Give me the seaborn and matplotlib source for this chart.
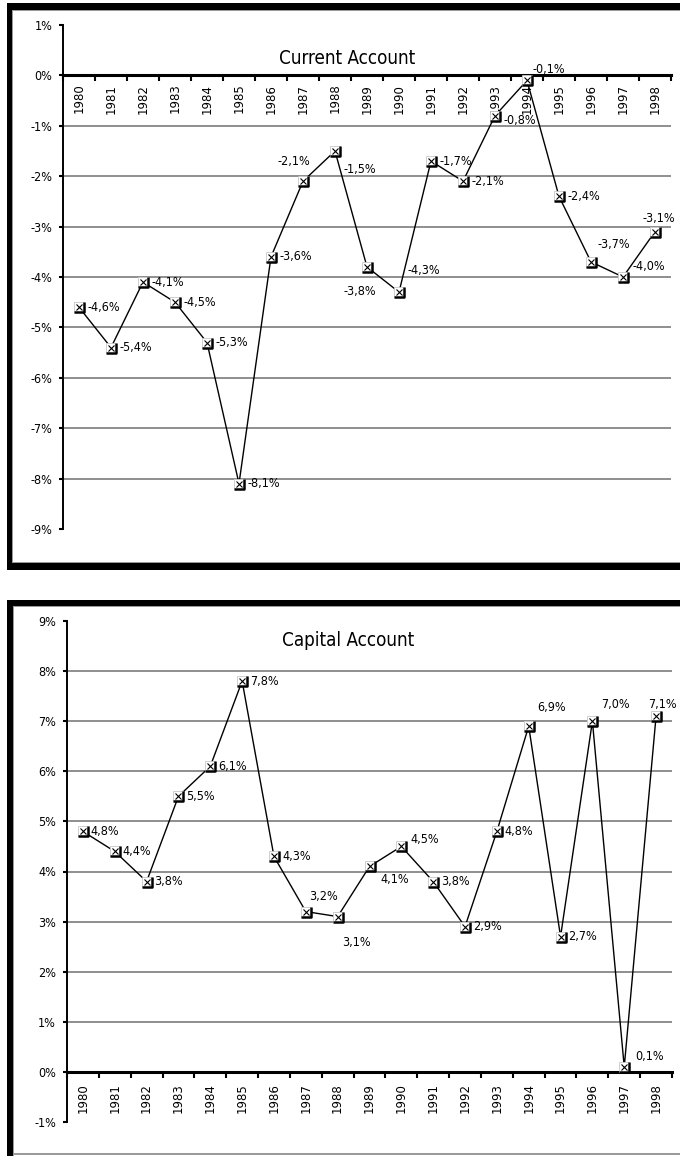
import numpy as np
import matplotlib
matplotlib.use("Agg")
import matplotlib.pyplot as plt
from matplotlib.patches import Rectangle
from matplotlib.path import Path
from matplotlib import font_manager
import seaborn as sns

# ---- data -------------------------------------------------------------
years = list(range(1980, 1999))
current_account = [-4.6, -5.4, -4.1, -4.5, -5.3, -8.1, -3.6, -2.1, -1.5, -3.8,
                   -4.3, -1.7, -2.1, -0.8, -0.1, -2.4, -3.7, -4.0, -3.1]
capital_account = [4.8, 4.4, 3.8, 5.5, 6.1, 7.8, 4.3, 3.2, 3.1, 4.1,
                   4.5, 3.8, 2.9, 4.8, 6.9, 2.7, 7.0, 0.1, 7.1]
current_ticks = list(range(1, -10, -1))
capital_ticks = list(range(9, -2, -1))
year_labels = [str(y) for y in years]
titles = ["Current Account", "Capital Account"]

# label placement: year -> (dx px, dy px, horizontal alignment)
current_label_pos = {1987: (-9, 20, "center"), 1988: (8, -18, "left"),
                     1989: (-7, -25, "center"), 1990: (8, 22, "left"),
                     1993: (8, -5, "left"),
                     1994: (5, 11, "left"), 1996: (6, 17, "left"),
                     1997: (9, 11, "left"), 1998: (4, 13, "center")}
capital_label_pos = {1987: (18, 15, "center"), 1988: (4, -26, "left"),
                     1989: (11, -13, "left"), 1990: (9, 7, "left"),
                     1994: (9, 19, "left"), 1996: (9, 17, "left"),
                     1997: (11, 10, "left"), 1998: (6, 12, "center")}

# ---- style ------------------------------------------------------------
sns.set_theme(style="white")
fonts = font_manager.fontManager.ttflist
has_narrow = any(f.name == "Liberation Sans Narrow" for f in fonts)
has_condensed = any(f.name == "DejaVu Sans" and f.stretch == "condensed" for f in fonts)
if has_narrow:
    plt.rcParams["font.family"] = ["Liberation Sans Narrow", "DejaVu Sans"]
    shrink = 1.0
else:
    plt.rcParams["font.family"] = ["DejaVu Sans"]
    if has_condensed:
        plt.rcParams["font.stretch"] = "condensed"
        shrink = 0.9
    else:
        shrink = 0.78
plt.rcParams["text.color"] = "black"
plt.rcParams["xtick.color"] = "black"
plt.rcParams["ytick.color"] = "black"

W, H = 680, 1156
fig = plt.figure(figsize=(W / 100, H / 100), dpi=100)
fig.patch.set_facecolor("white")


def fig_box(x0, y0, x1, y1):
    """Pixel box measured from the top-left corner -> figure fractions."""
    return [x0 / W, 1 - y1 / H, (x1 - x0) / W, (y1 - y0) / H]


def bar(x0, y0, x1, y1, color="black"):
    l, b, w, h = fig_box(x0, y0, x1, y1)
    fig.add_artist(Rectangle((l, b), w, h, transform=fig.transFigure,
                             facecolor=color, edgecolor="none", zorder=0))


# heavy black frames around each chart
bar(7, 3, 700, 10)
bar(7, 3, 12, 570)
bar(7, 563, 700, 570)
bar(12, 10, 700, 11, "#9a9a9a")
bar(12, 10, 13, 563, "#9a9a9a")
bar(12, 562, 700, 563, "#9a9a9a")

bar(7, 600, 700, 606)
bar(7, 600, 13, 1156)
bar(13, 606, 700, 607, "#9a9a9a")
bar(13, 606, 14, 1156, "#9a9a9a")
bar(13, 1153, 700, 1155, "#9a9a9a")

# bottom/right bracket drawn beside each data point
bracket = Path([(-1, -1), (1, -1), (1, 1)],
               [Path.MOVETO, Path.LINETO, Path.LINETO])


def draw_panel(box, values, ticks, title, title_xy, label_pos, y_pad, year_pad):
    ax = fig.add_axes(fig_box(*box))
    ax.set_facecolor("none")
    ax.set_xlim(years[0] - 0.5, years[-1] + 0.5)
    ax.set_ylim(ticks[-1], ticks[0])

    for t in ticks[1:-1]:
        if t != 0:
            ax.axhline(t, color="#8e8e8e", lw=1.4, zorder=1)

    sns.lineplot(x=years, y=values, ax=ax, color="black", linewidth=1.0,
                 marker="s", markersize=7.5, markerfacecolor="white",
                 markeredgecolor="#c8c8c8", markeredgewidth=0.6, zorder=3)
    ax.plot(years, values, linestyle="none", marker=bracket, markersize=7.5,
            markeredgecolor="black", markeredgewidth=1.8,
            markerfacecolor="none", zorder=4)
    ax.plot(years, values, linestyle="none", marker="x", markersize=4,
            markeredgecolor="black", markeredgewidth=0.8, zorder=4)

    for yr, v in zip(years, values):
        dx, dy, ha = label_pos.get(yr, (8, 0, "left"))
        txt = f"{v:.1f}".replace(".", ",") + "%"
        ax.annotate(txt, (yr, v), xytext=(dx, dy), textcoords="offset pixels",
                    ha=ha, va="center", fontsize=10 * shrink, zorder=5)

    for side in ("top", "right"):
        ax.spines[side].set_visible(False)
    ax.spines["left"].set_color("black")
    ax.spines["left"].set_linewidth(1.4)
    ax.spines["bottom"].set_color("black")
    ax.spines["bottom"].set_position(("data", 0))
    ax.spines["bottom"].set_linewidth(2.2)
    ax.spines["bottom"].set_zorder(2.5)

    bounds = np.arange(years[0] - 0.5, years[-1] + 1.0, 1.0)
    ax.set_xticks(bounds, labels=[""] * len(bounds))
    ax.set_xticks(years, labels=year_labels, minor=True)
    ax.tick_params(axis="x", which="major", bottom=True, direction="out",
                   length=4, width=1.5)
    ax.tick_params(axis="x", which="minor", bottom=True, length=0,
                   pad=year_pad, labelrotation=90)
    for lbl in ax.get_xticklabels(minor=True):
        lbl.set_family("DejaVu Sans")
        lbl.set_stretch("normal")
        lbl.set_fontsize(8.5)
        lbl.set_va("top")

    ax.set_yticks(ticks, labels=[f"{t}%" for t in ticks])
    ax.tick_params(axis="y", left=True, direction="out", length=3, width=1.5,
                   pad=y_pad, labelsize=10 * shrink)
    ax.grid(False)

    fig.text(title_xy[0] / W, 1 - title_xy[1] / H, title, ha="center",
             va="center", fontsize=15 * shrink)
    return ax


draw_panel((63, 25, 671, 529), current_account, current_ticks, titles[0],
           (347, 58), current_label_pos, 4.5, 6)
draw_panel((67, 621, 672, 1122), capital_account, capital_ticks, titles[1],
           (348, 640), capital_label_pos, 5, 8)

fig.savefig("out.png", dpi=100, facecolor="white")
